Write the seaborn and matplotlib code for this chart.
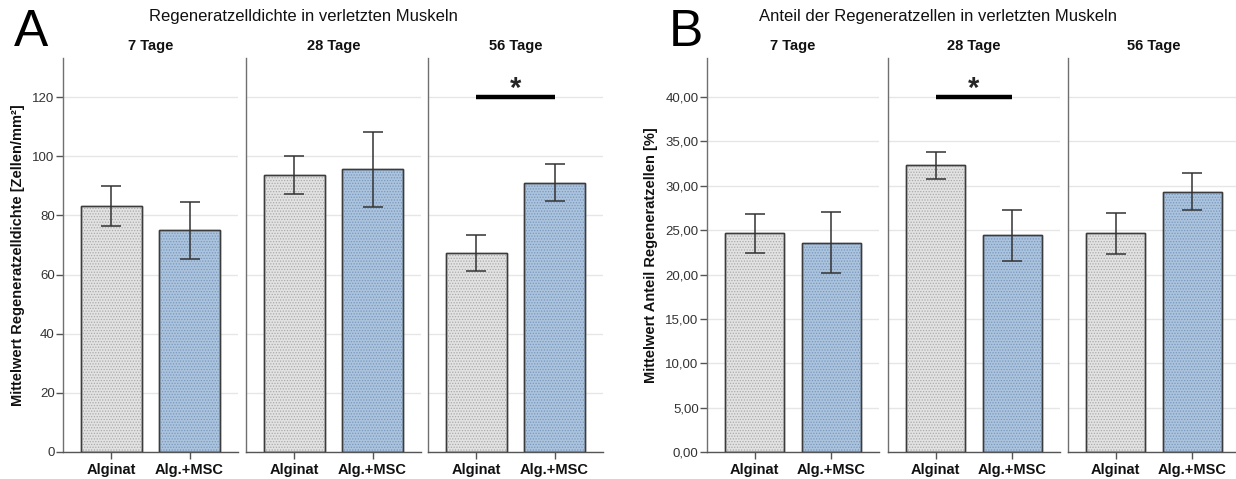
import matplotlib
matplotlib.use("Agg")
import matplotlib.pyplot as plt
from matplotlib.patches import Rectangle
import seaborn as sns
import pandas as pd

# ---------------- data ----------------
days = ["7 Tage", "28 Tage", "56 Tage"]
groups = ["Alginat", "Alg.+MSC"]

density_alg_mean = [83.2, 93.6, 67.4]
density_alg_lo = [76.4, 87.2, 61.3]
density_alg_hi = [89.9, 100.1, 73.4]
density_msc_mean = [75.1, 95.6, 91.0]
density_msc_lo = [65.2, 82.9, 84.9]
density_msc_hi = [84.6, 108.2, 97.2]

share_alg_mean = [24.65, 32.35, 24.65]
share_alg_lo = [22.4, 30.75, 22.3]
share_alg_hi = [26.83, 33.84, 26.9]
share_msc_mean = [23.58, 24.4, 29.3]
share_msc_lo = [20.15, 21.53, 27.3]
share_msc_hi = [27.0, 27.24, 31.4]

density_ticks = [0, 20, 40, 60, 80, 100, 120]
share_ticks = [0, 5, 10, 15, 20, 25, 30, 35, 40]
share_ticklabels = ["0,00", "5,00", "10,00", "15,00", "20,00", "25,00", "30,00", "35,00", "40,00"]

sig_density = (2, 120.0)   # panel index, level
sig_share = (1, 40.0)

# ---------------- style ----------------
sns.set_theme(style="white")
plt.rcParams["font.family"] = ["Liberation Sans", "DejaVu Sans"]
plt.rcParams["hatch.linewidth"] = 0.6

fill_colors = ["#e2e2e2", "#a3c3e4"]
hatch_colors = ["#aaaaaa", "#7898bf"]
edge_col = "#3c3c3c"
spine_col = "#707070"
err_col = "#333333"
grid_col = "#e6e6e6"

W, H = 1236, 479
fig = plt.figure(figsize=(W / 100, H / 100), dpi=100)
ax_bottom = 1 - 452 / H
ax_height = (452 - 58) / H


def draw_panel(ax, means, los, his, ylim, ticks, ticklabels, first, title):
    df = pd.DataFrame({"Gruppe": groups, "Wert": means})
    sns.barplot(data=df, x="Gruppe", y="Wert", hue="Gruppe", palette=fill_colors,
                order=groups, hue_order=groups, legend=False, errorbar=None,
                width=0.77, edgecolor=edge_col, linewidth=1.0, ax=ax, zorder=2)
    for i, p in enumerate(list(ax.patches)):
        ax.add_patch(Rectangle((p.get_x(), p.get_y()), p.get_width(), p.get_height(),
                               facecolor="none", edgecolor=hatch_colors[i],
                               linewidth=0, hatch="......", zorder=2.5))
        ax.add_patch(Rectangle((p.get_x(), p.get_y()), p.get_width(), p.get_height(),
                               facecolor="none", edgecolor=edge_col,
                               linewidth=1.0, zorder=2.6))
    xs = list(range(len(groups)))
    yerr = [[m - l for m, l in zip(means, los)], [h - m for m, h in zip(means, his)]]
    ax.errorbar(xs, means, yerr=yerr, fmt="none", ecolor=err_col, elinewidth=1.1,
                capsize=7, capthick=1.1, zorder=3)
    ax.set_ylim(*ylim)
    ax.set_xlim(-0.62, 1.62)
    ax.set_yticks(ticks)
    ax.yaxis.grid(True, color=grid_col, linewidth=1.0, zorder=0)
    ax.set_axisbelow(True)
    for s in ["top", "right"]:
        ax.spines[s].set_visible(False)
    ax.spines["left"].set_color(spine_col)
    ax.spines["bottom"].set_color("#555555")
    ax.spines["left"].set_linewidth(1.0)
    ax.spines["bottom"].set_linewidth(1.0)
    ax.set_xlabel("")
    ax.set_ylabel("")
    ax.tick_params(axis="x", bottom=True, length=5, width=1, color="#555555",
                   labelsize=10.5, pad=3, labelcolor="#111111")
    for lab in ax.get_xticklabels():
        lab.set_fontweight("bold")
    if first:
        ax.set_yticklabels(ticklabels)
        ax.tick_params(axis="y", left=True, length=5, width=1, color="#555555",
                       labelsize=9.5, labelcolor="#333333", pad=1)
    else:
        ax.tick_params(axis="y", left=False, labelleft=False)
    ax.set_title(title, fontsize=10.5, fontweight="bold", pad=6, color="#111111")


def sig_marker(ax, level, star_offset):
    ax.plot([0, 1], [level, level], color="black", linewidth=3.2, solid_capstyle="butt", zorder=4)
    ax.text(0.5, level + star_offset, "*", ha="center", va="center", fontsize=21,
            fontweight="bold", zorder=4)


# Panel A
a_lefts = [63, 246, 428]
for k, d in enumerate(days):
    ax = fig.add_axes([a_lefts[k] / W, ax_bottom, 175 / W, ax_height])
    draw_panel(ax, [density_alg_mean[k], density_msc_mean[k]],
               [density_alg_lo[k], density_msc_lo[k]],
               [density_alg_hi[k], density_msc_hi[k]],
               (0, 133.2), density_ticks, [str(t) for t in density_ticks], k == 0, d)
    if k == 0:
        ax.set_ylabel("Mittelwert Regeneratzelldichte [Zellen/mm²]", fontsize=10.5,
                      fontweight="bold", labelpad=5, color="#111111")
    if k == sig_density[0]:
        sig_marker(ax, sig_density[1], 2.6)

# Panel B
b_lefts = [707, 888, 1068]
for k, d in enumerate(days):
    ax = fig.add_axes([b_lefts[k] / W, ax_bottom, 172 / W, ax_height])
    draw_panel(ax, [share_alg_mean[k], share_msc_mean[k]],
               [share_alg_lo[k], share_msc_lo[k]],
               [share_alg_hi[k], share_msc_hi[k]],
               (0, 44.4), share_ticks, share_ticklabels, k == 0, d)
    if k == 0:
        ax.set_ylabel("Mittelwert Anteil Regeneratzellen [%]", fontsize=10.5,
                      fontweight="bold", labelpad=5, color="#111111")
    if k == sig_share[0]:
        sig_marker(ax, sig_share[1], 0.87)

fig.text(303 / W, 1 - 17 / H, "Regeneratzelldichte in verletzten Muskeln", ha="center",
         va="center", fontsize=12, color="#111111")
fig.text(938 / W, 1 - 17 / H, "Anteil der Regeneratzellen in verletzten Muskeln", ha="center",
         va="center", fontsize=12, color="#111111")
fig.text(31 / W, 1 - 32 / H, "A", ha="center", va="center", fontsize=37, color="black")
fig.text(686 / W, 1 - 32 / H, "B", ha="center", va="center", fontsize=37, color="black")

fig.savefig("out.png", dpi=100, facecolor="white")
